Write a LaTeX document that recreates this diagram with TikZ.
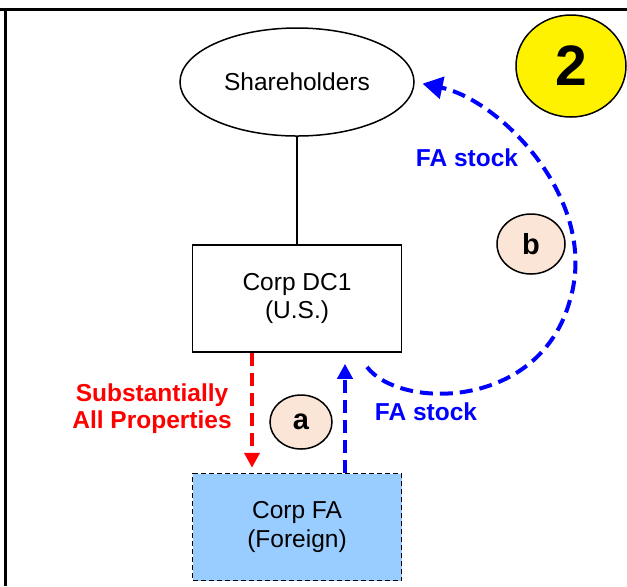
\documentclass[tikz,border=0pt]{standalone}
\usepackage{fontspec}
\setmainfont{Liberation Sans}
\usetikzlibrary{shapes.geometric,arrows.meta}
\definecolor{fablue}{RGB}{153,204,255}
\definecolor{peach}{RGB}{251,229,214}
\begin{document}
\begin{tikzpicture}[x=0.5pt,y=-0.5pt,
  holder/.style={ellipse,draw=black,line width=0.75pt,inner sep=0,
    minimum width=117pt,minimum height=54pt,
    font=\fontsize{12.25}{14.5}\selectfont},
  corp/.style={rectangle,draw=black,line width=0.75pt,align=center,
    inner sep=0,minimum width=104.5pt,minimum height=53.5pt,
    font=\fontsize{12.25}{14.5}\selectfont},
  foreign/.style={corp,fill=fablue,dash pattern=on 2.5pt off 1.5pt},
  tag/.style={ellipse,draw=black,fill=peach,line width=0.75pt,inner sep=0,
    font=\bfseries\fontsize{14.5}{16}\selectfont},
  bluelabel/.style={text=blue,font=\bfseries\fontsize{12.25}{14.5}\selectfont},
  stockflow/.style={draw=blue,line width=2pt,dash pattern=on 6.5pt off 3.5pt,
    -{Triangle[length=7.5pt,width=7.5pt]}},
  propflow/.style={draw=red,line width=2pt,dash pattern=on 6.5pt off 3.5pt,
    -{Triangle[length=7.5pt,width=7.5pt]}}]
  \useasboundingbox (0,0) rectangle (627,586);
  % frame
  \draw[line width=1.5pt] (0,9.5) -- (627,9.5);
  \draw[line width=1.5pt] (5.5,9.5) -- (5.5,586);
  % entities
  \node[holder] (sh) at (297,82) {Shareholders};
  \node[corp] (dc) at (297,298.5) {\raisebox{-1.5pt}{\shortstack{Corp DC1\\(U.S.)}}};
  \node[foreign] (fa) at (297,527) {Corp FA\\(Foreign)};
  \node[ellipse,draw=black,fill=yellow,line width=0.75pt,inner sep=0,
    minimum width=55pt,minimum height=51pt,
    font=\bfseries\fontsize{28.5}{30}\selectfont] (step2) at (571,66) {2};
  \node[tag,minimum width=31pt,minimum height=27pt] (ta) at (301,422) {a};
  \node[tag,minimum width=34pt,minimum height=30pt] (tb) at (531,244) {b};
  \coordinate (bstart) at (367,367);
  \coordinate (bturn) at (570,300);
  % connectors
  \draw[line width=0.75pt] (sh) -- (dc);
  \draw[propflow,shorten >=2.5pt] ([xshift=-22.5pt]dc.south) -- ([xshift=-22.5pt]fa.north);
  \draw[stockflow,shorten >=5.5pt] ([xshift=24pt]fa.north) -- ([xshift=24pt]dc.south);
  \draw[stockflow,shorten >=4pt,-{Triangle[length=10pt,width=11pt]}] (bstart)
    .. controls (400,410) and (540,410) .. (bturn)
    .. controls (600,200) and (500,100) .. (sh.east);
  % labels
  \node[bluelabel] (stk1) at (467,158) {FA stock};
  \node[bluelabel] (stk2) at (426,412) {FA stock};
  \node[text=red,align=center,font=\bfseries\fontsize{12.25}{13.5}\selectfont] (prop) at (152,408.5) {Substantially\\All Properties};
\end{tikzpicture}
\end{document}
